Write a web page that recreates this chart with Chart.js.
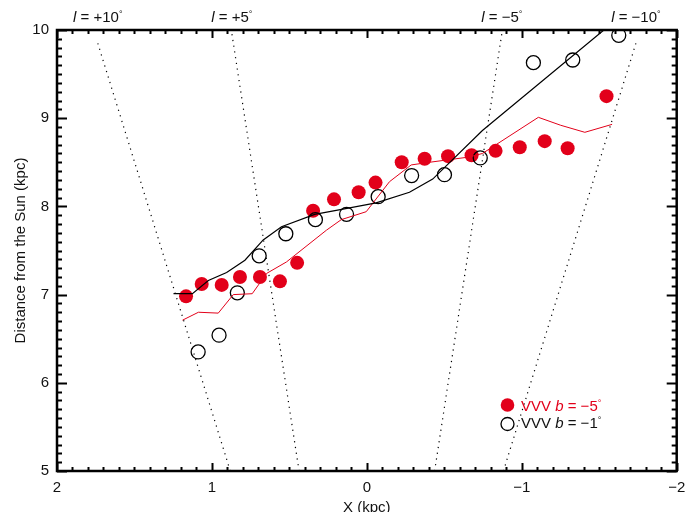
<!DOCTYPE html>
<html>
<head>
<meta charset="utf-8">
<script src="https://cdn.jsdelivr.net/npm/chart.js@4/dist/chart.umd.min.js"></script>
<style>
  html, body { margin: 0; padding: 0; background: #fff; }
</style>
</head>
<body>
<canvas id="myChart" width="685" height="512"></canvas>
<script>
// VVV b = -5 deg (filled red)
const redX = [1.167, 1.066, 0.937, 0.819, 0.690, 0.561, 0.450, 0.347, 0.212, 0.053, -0.056, -0.225, -0.373, -0.524, -0.676, -0.831, -0.987, -1.148, -1.296, -1.547];
const redY = [6.98, 7.12, 7.11, 7.20, 7.20, 7.15, 7.36, 7.95, 8.08, 8.16, 8.27, 8.50, 8.54, 8.57, 8.58, 8.63, 8.67, 8.74, 8.66, 9.25];
// VVV b = -1 deg (open black)
const openX = [1.089, 0.954, 0.836, 0.695, 0.523, 0.332, 0.131, -0.073, -0.289, -0.501, -0.732, -1.075, -1.329, -1.626];
const openY = [6.35, 6.54, 7.02, 7.44, 7.69, 7.85, 7.91, 8.11, 8.35, 8.36, 8.55, 9.63, 9.66, 9.94];
// black curve
const blackLineX = [1.248, 1.126, 1.023, 0.905, 0.787, 0.669, 0.551, 0.337, 0.154, -0.060, -0.275, -0.425, -0.746, -1.530];
const blackLineY = [7.01, 7.01, 7.16, 7.25, 7.39, 7.62, 7.77, 7.91, 7.97, 8.04, 8.16, 8.31, 8.86, 10.0];
// red curve
const redLineX = [1.190, 1.087, 0.959, 0.862, 0.740, 0.647, 0.519, 0.261, 0.165, 0.004, -0.146, -0.286, -0.403, -0.532, -0.661, -0.746, -1.107, -1.251, -1.407, -1.583];
const redLineY = [6.71, 6.80, 6.79, 7.00, 7.01, 7.24, 7.37, 7.73, 7.85, 7.94, 8.28, 8.47, 8.50, 8.53, 8.56, 8.60, 9.01, 8.92, 8.84, 8.93];
// lines of constant galactic longitude (deg)
const longitudes = [10, 5, -5, -10];
const lonLabels = ['+10', '+5', '\u22125', '\u221210'];

const RED = '#e2001a';
const FONT = "'Liberation Sans', Arial, sans-serif";

function pts(xs, ys) { return xs.map((x, i) => ({ x: x, y: ys[i] })); }

function lonLine(l) {
	const r = l * Math.PI / 180;
	const d0 = 5 / Math.cos(r);
	return [{ x: d0 * Math.sin(r), y: 5 }, { x: 10 * Math.sin(r), y: 10 * Math.cos(r) }];
}

function minusFmt(v) { return v < 0 ? '\u2212' + Math.abs(v) : String(v); }

const lonSets = longitudes.map(l => ({
	data: lonLine(l),
	showLine: true,
	borderColor: '#000',
	borderWidth: 1.2,
	borderDash: [1.2, 4.6],
	pointRadius: 0,
}));

// draws the frame, inward ticks, top labels, axis titles and legend
const framePlugin = {
	id: 'frame',
	afterDraw(chart) {
		const ctx = chart.ctx;
		const a = chart.chartArea;
		const xs = chart.scales.x, ys = chart.scales.y;
		ctx.save();
		ctx.strokeStyle = '#000';
		ctx.lineWidth = 2;
		ctx.beginPath();
		for (let i = -20; i <= 20; i++) {
			const px = Math.round(xs.getPixelForValue(i / 10)) + 0.5;
			const len = (i % 10 === 0) ? 8 : 4;
			ctx.moveTo(px, a.bottom); ctx.lineTo(px, a.bottom - len);
			ctx.moveTo(px, a.top); ctx.lineTo(px, a.top + len);
		}
		for (let i = 50; i <= 100; i++) {
			const py = Math.round(ys.getPixelForValue(i / 10)) + 0.5;
			const len = (i % 10 === 0) ? 10 : 5;
			ctx.moveTo(a.left, py); ctx.lineTo(a.left + len, py);
			ctx.moveTo(a.right, py); ctx.lineTo(a.right - len, py);
		}
		ctx.stroke();
		ctx.lineWidth = 2.5;
		ctx.strokeRect(a.left, a.top, a.right - a.left, a.bottom - a.top);

		// longitude labels above the plot
		ctx.fillStyle = '#111';
		ctx.textBaseline = 'alphabetic';
		longitudes.forEach((l, i) => {
			const r = l * Math.PI / 180;
			const cx = xs.getPixelForValue(10 * Math.sin(r));
			drawRich(ctx, [
				{ t: 'l', f: 'italic 15px ' + FONT },
				{ t: ' = ' + lonLabels[i], f: '15px ' + FONT },
				{ t: '\u00b0', f: '9px ' + FONT, dy: -5 },
			], cx, 22, 'center');
		});

		// axis titles
		ctx.font = '15px ' + FONT;
		ctx.textAlign = 'center';
		ctx.fillText('X (kpc)', (a.left + a.right) / 2, 512);
		ctx.save();
		ctx.translate(25, (a.top + a.bottom) / 2);
		ctx.rotate(-Math.PI / 2);
		ctx.fillText('Distance from the Sun (kpc)', 0, 0);
		ctx.restore();

		// legend
		ctx.fillStyle = RED;
		ctx.beginPath(); ctx.arc(507.5, 405, 6.8, 0, Math.PI * 2); ctx.fill();
		drawRich(ctx, [
			{ t: 'VVV ', f: '15px ' + FONT },
			{ t: 'b', f: 'italic 15px ' + FONT },
			{ t: ' = \u22125', f: '15px ' + FONT },
			{ t: '\u00b0', f: '9px ' + FONT, dy: -5 },
		], 521, 411, 'left', RED);
		ctx.strokeStyle = '#000';
		ctx.lineWidth = 1.3;
		ctx.beginPath(); ctx.arc(507.5, 424, 6.5, 0, Math.PI * 2); ctx.stroke();
		drawRich(ctx, [
			{ t: 'VVV ', f: '15px ' + FONT },
			{ t: 'b', f: 'italic 15px ' + FONT },
			{ t: ' = \u22121', f: '15px ' + FONT },
			{ t: '\u00b0', f: '9px ' + FONT, dy: -5 },
		], 521, 428, 'left', '#111');
		ctx.restore();
	}
};

function drawRich(ctx, parts, x, y, align, color) {
	ctx.save();
	if (color) ctx.fillStyle = color;
	ctx.textAlign = 'left';
	let w = 0;
	parts.forEach(p => { ctx.font = p.f; p.w = ctx.measureText(p.t).width; w += p.w; });
	let cx = align === 'center' ? x - w / 2 : x;
	parts.forEach(p => {
		ctx.font = p.f;
		ctx.fillText(p.t, cx, y + (p.dy || 0));
		cx += p.w;
	});
	ctx.restore();
}

document.addEventListener('DOMContentLoaded', function () {
	const chart1 = document.getElementById('myChart').getContext('2d');
	Chart.defaults.font.family = FONT;

	new Chart(chart1, {
		type: 'scatter',
		data: {
			datasets: lonSets.concat([
				{
					data: pts(blackLineX, blackLineY),
					showLine: true,
					borderColor: '#000',
					borderWidth: 1.2,
					pointRadius: 0,
				},
				{
					data: pts(redLineX, redLineY),
					showLine: true,
					borderColor: RED,
					borderWidth: 1,
					pointRadius: 0,
				},
				{
					data: pts(openX, openY),
					pointRadius: 7,
					pointBackgroundColor: 'rgba(0,0,0,0)',
					pointBorderColor: '#000',
					pointBorderWidth: 1.3,
				},
				{
					data: pts(redX, redY),
					pointRadius: 7,
					pointBackgroundColor: RED,
					pointBorderWidth: 0,
				},
			]),
		},
		plugins: [framePlugin],
		options: {
			responsive: false,
			animation: false,
			devicePixelRatio: 1,
			layout: { padding: { left: 0, right: 7, top: 30, bottom: 0 } },
			plugins: { legend: { display: false }, tooltip: { enabled: false } },
			scales: {
				x: {
					type: 'linear',
					reverse: true,
					min: -2, max: 2,
					grid: { display: false, drawTicks: false },
					border: { display: false },
					ticks: { stepSize: 1, padding: 8, color: '#111', font: { size: 15 }, callback: minusFmt },
					afterFit(s) { s.height = 41; s.paddingLeft = 0; s.paddingRight = 0; },
				},
				y: {
					min: 5, max: 10,
					grid: { display: false, drawTicks: false },
					border: { display: false },
					ticks: { stepSize: 1, padding: 8, color: '#111', font: { size: 15 }, callback: minusFmt },
					afterFit(s) { s.width = 57; s.paddingTop = 0; s.paddingBottom = 0; },
				},
			},
		},
	});
});
</script>
</body>
</html>
